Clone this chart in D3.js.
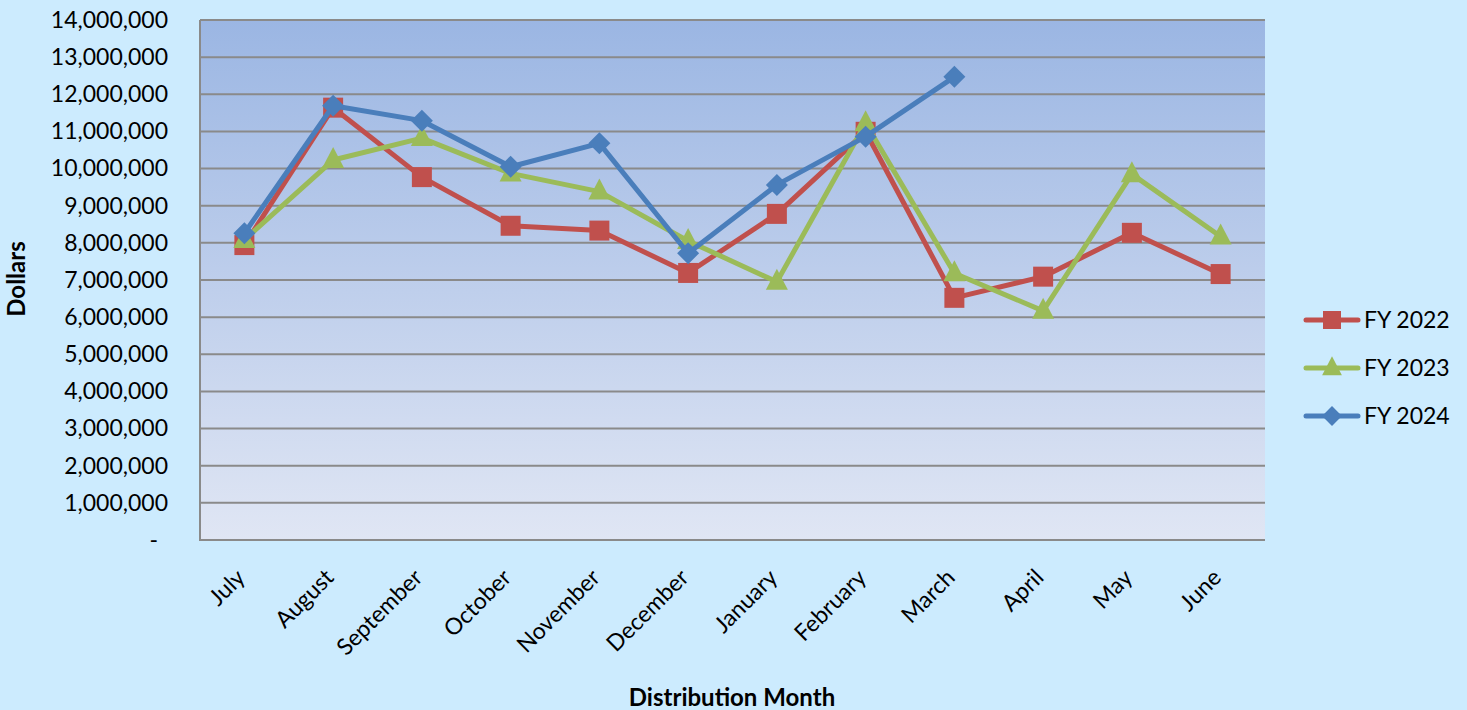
<!DOCTYPE html>
<html>
<head>
<meta charset="utf-8">
<script src="https://cdn.jsdelivr.net/npm/d3@7"></script>
<style>
  html, body { margin: 0; padding: 0; background: #CCEBFE; }
  svg { display: block; }
  text { font-family: Lato, "Open Sans", sans-serif; fill: #000; }
</style>
</head>
<body>
<svg id="chart" width="1467" height="710"></svg>
<script>
const months = ["July","August","September","October","November","December","January","February","March","April","May","June"];
const fy2022 = [7940000,11640000,9770000,8460000,8330000,7190000,8780000,10990000,6520000,7090000,8270000,7160000];
const fy2023 = [8080000,10230000,10820000,9870000,9380000,8050000,6950000,11220000,7180000,6170000,9850000,8170000];
const fy2024 = [8260000,11690000,11290000,10050000,10680000,7720000,9560000,10860000,12470000];
const yTicks = [0,1000000,2000000,3000000,4000000,5000000,6000000,7000000,8000000,9000000,10000000,11000000,12000000,13000000,14000000];
const seriesNames = ["FY 2022","FY 2023","FY 2024"];
const seriesColors = ["#C0504D","#9BBB59","#4A7EBB"];
const seriesShapes = ["square","triangle","diamond"];

const svg = d3.select("#chart");
const m = {left: 200, top: 20, right: 1265, bottom: 540};

const x = d3.scaleBand().domain(months).range([m.left, m.right]);
const y = d3.scaleLinear().domain([0, 14000000]).range([m.bottom, m.top]);

// gradient
const defs = svg.append("defs");
const grad = defs.append("linearGradient").attr("id","pg").attr("x1",0).attr("y1",0).attr("x2",0).attr("y2",1);
grad.append("stop").attr("offset","0%").attr("stop-color","#9BB6E3");
grad.append("stop").attr("offset","100%").attr("stop-color","#E0E6F4");

svg.append("rect").attr("x", m.left).attr("y", m.top)
  .attr("width", m.right - m.left).attr("height", m.bottom - m.top)
  .attr("fill","url(#pg)");

// gridlines
svg.append("g").selectAll("line").data(yTicks.filter(d => d > 0)).join("line")
  .attr("x1", m.left).attr("x2", m.right)
  .attr("y1", d => y(d)).attr("y2", d => y(d))
  .attr("stroke","#8A8A8A").attr("stroke-width",2);

// y axis
const yAxis = d3.axisLeft(y).tickValues(yTicks).tickSize(0).tickPadding(32)
  .tickFormat(d => d === 0 ? "-" : d3.format(",")(d));
const yg = svg.append("g").attr("transform",`translate(${m.left},0)`).call(yAxis);
yg.select(".domain").remove();
yg.selectAll("text").style("font-size","23px").style("font-family","Lato, 'Open Sans', sans-serif")
  .attr("dx", d => d === 0 ? -10 : 0);

// axis lines
svg.append("line").attr("x1",m.left).attr("x2",m.left).attr("y1",m.top).attr("y2",m.bottom)
  .attr("stroke","#8A8A8A").attr("stroke-width",2);
svg.append("line").attr("x1",m.left-1).attr("x2",m.right).attr("y1",m.bottom).attr("y2",m.bottom)
  .attr("stroke","#8A8A8A").attr("stroke-width",2);

// x axis labels
const xAxis = d3.axisBottom(x).tickSize(0).tickPadding(0);
const xg = svg.append("g").attr("transform",`translate(0,${m.bottom})`).call(xAxis);
xg.select(".domain").remove();
xg.selectAll("text")
  .style("font-size","23px").style("font-family","Lato, 'Open Sans', sans-serif")
  .attr("text-anchor","end")
  .attr("dy", 0).attr("y", 0)
  .attr("transform","translate(2,39) rotate(-45)");

// series
const allSeries = [fy2022, fy2023, fy2024];
const line = d3.line().x((d,i) => x(months[i]) + x.bandwidth()/2).y(d => y(d));

function shapePath(shape) {
  if (shape === "square") return "M-10,-10H10V10H-10Z";
  if (shape === "triangle") return "M0,-13L11,8H-11Z";
  return "M0,-11L11,0L0,11L-11,0Z";
}

allSeries.forEach((vals, si) => {
  const g = svg.append("g");
  g.append("path").datum(vals).attr("d", line)
    .attr("fill","none").attr("stroke", seriesColors[si]).attr("stroke-width",5)
    .attr("stroke-linejoin","round");
  g.selectAll("path.mk").data(vals).join("path").attr("class","mk")
    .attr("transform",(d,i) => `translate(${x(months[i]) + x.bandwidth()/2},${y(d)})`)
    .attr("d", shapePath(seriesShapes[si]))
    .attr("fill", seriesColors[si]);
});

// legend
const lg = svg.append("g");
seriesNames.forEach((name, i) => {
  const ly = 320 + i * 48;
  lg.append("line").attr("x1",1306).attr("x2",1358).attr("y1",ly).attr("y2",ly)
    .attr("stroke",seriesColors[i]).attr("stroke-width",5).attr("stroke-linecap","round");
  lg.append("path")
    .attr("d", shapePath(seriesShapes[i])).attr("fill", seriesColors[i])
    .attr("transform",`translate(1332,${ly}) scale(0.9)`);
  lg.append("text").attr("x",1364).attr("y",ly).attr("dy","0.35em")
    .style("font-size","23px").text(name);
});

// axis titles
svg.append("text").attr("transform","translate(25,279) rotate(-90)")
  .attr("text-anchor","middle").style("font-size","24px").style("font-weight","bold").text("Dollars");
svg.append("text").attr("x",732).attr("y",706)
  .attr("text-anchor","middle").style("font-size","24px").style("font-weight","bold").text("Distribution Month");
</script>
</body>
</html>
